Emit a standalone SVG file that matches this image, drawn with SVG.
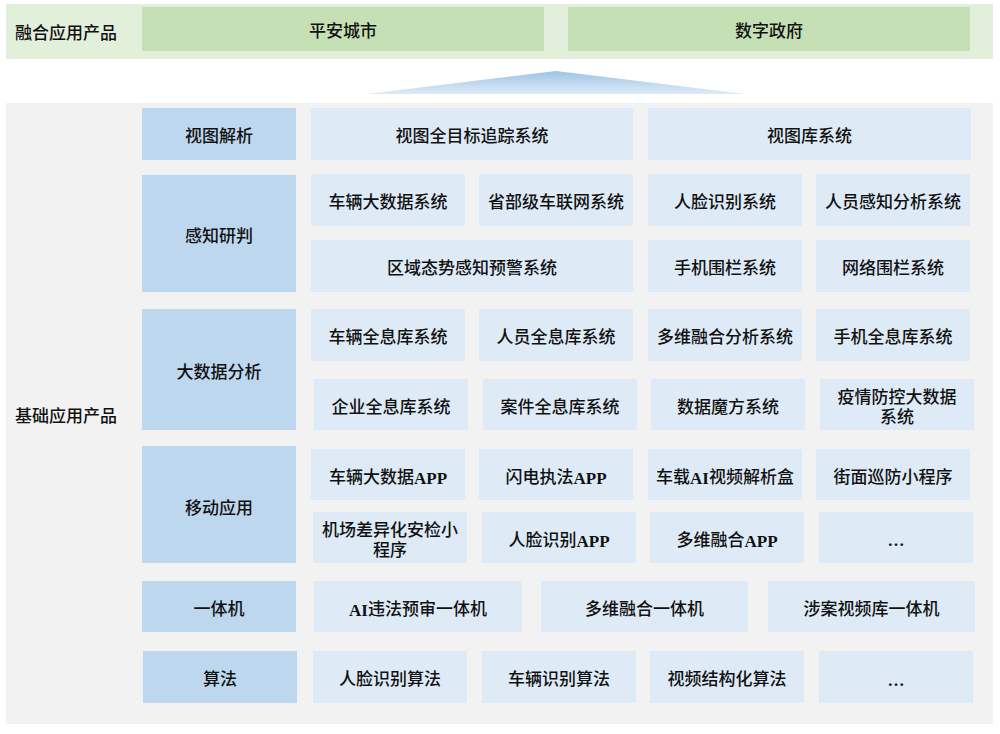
<svg xmlns="http://www.w3.org/2000/svg" width="1000" height="734" viewBox="0 0 1000 734">
<defs>
<linearGradient id="triGrad" x1="0" y1="0" x2="0" y2="1">
<stop offset="0" stop-color="#9dc3e6"/>
<stop offset="1" stop-color="#deebf7"/>
</linearGradient>
<style>
text{font-family:"Liberation Serif","Noto Sans CJK SC",serif;font-size:17px;font-weight:500;fill:#111;text-anchor:middle;dominant-baseline:central;transform:translateY(2.5px)}
.lbl{text-anchor:start}
.lat{font-weight:bold}
.band-top{fill:#e2efda}
.band{fill:#f2f2f2}
.green{fill:#c5e0b4}
.cat{fill:#bdd7ee}
.item{fill:#deebf7}
</style>
</defs>
<rect class="band-top" x="6" y="4" width="987" height="55"/>
<text class="lbl" x="15" y="31">融合应用产品</text>
<g id="n-pingan"><rect class="green" x="142" y="7" width="402" height="44"/><text x="343" y="29">平安城市</text></g>
<g id="n-shuzi"><rect class="green" x="568" y="7" width="402" height="44"/><text x="769" y="29">数字政府</text></g>
<polygon points="556,71 745,94 367,94" fill="url(#triGrad)"/>
<rect class="band" x="6" y="103" width="987" height="621"/>
<text class="lbl" x="15" y="414">基础应用产品</text>
<g id="c-shitu"><rect class="cat" x="142" y="108" width="154" height="52"/><text x="219" y="134">视图解析</text></g>
<g id="i-1"><rect class="item" x="311" y="108" width="322" height="52"/><text x="472" y="134">视图全目标追踪系统</text></g>
<g id="i-2"><rect class="item" x="648" y="108" width="323" height="52"/><text x="809.5" y="134">视图库系统</text></g>
<g id="c-ganzhi"><rect class="cat" x="142" y="175" width="154" height="117"/><text x="219" y="234">感知研判</text></g>
<g id="i-3"><rect class="item" x="311" y="174" width="154" height="52"/><text x="388" y="200">车辆大数据系统</text></g>
<g id="i-4"><rect class="item" x="479" y="174" width="154" height="52"/><text x="556" y="200">省部级车联网系统</text></g>
<g id="i-5"><rect class="item" x="648" y="174" width="154" height="52"/><text x="725" y="200">人脸识别系统</text></g>
<g id="i-6"><rect class="item" x="816" y="174" width="154" height="52"/><text x="893" y="200">人员感知分析系统</text></g>
<g id="i-7"><rect class="item" x="311" y="240" width="322" height="52"/><text x="472" y="266">区域态势感知预警系统</text></g>
<g id="i-8"><rect class="item" x="648" y="240" width="154" height="52"/><text x="725" y="266">手机围栏系统</text></g>
<g id="i-9"><rect class="item" x="816" y="240" width="154" height="52"/><text x="893" y="266">网络围栏系统</text></g>
<g id="c-dashuju"><rect class="cat" x="142" y="309" width="154" height="121"/><text x="219" y="370">大数据分析</text></g>
<g id="i-10"><rect class="item" x="311" y="309" width="154" height="52"/><text x="388" y="335">车辆全息库系统</text></g>
<g id="i-11"><rect class="item" x="479" y="309" width="154" height="52"/><text x="556" y="335">人员全息库系统</text></g>
<g id="i-12"><rect class="item" x="648" y="309" width="154" height="52"/><text x="725" y="335">多维融合分析系统</text></g>
<g id="i-13"><rect class="item" x="816" y="309" width="154" height="52"/><text x="893" y="335">手机全息库系统</text></g>
<g id="i-14"><rect class="item" x="314" y="379" width="154" height="51"/><text x="391" y="405">企业全息库系统</text></g>
<g id="i-15"><rect class="item" x="483" y="379" width="154" height="51"/><text x="560" y="405">案件全息库系统</text></g>
<g id="i-16"><rect class="item" x="651" y="379" width="154" height="51"/><text x="728" y="405">数据魔方系统</text></g>
<g id="i-17"><rect class="item" x="820" y="379" width="154" height="51"/><text x="897" y="395">疫情防控大数据</text><text x="897" y="415">系统</text></g>
<g id="c-yidong"><rect class="cat" x="142" y="446" width="154" height="117"/><text x="219" y="506">移动应用</text></g>
<g id="i-18"><rect class="item" x="311" y="449" width="154" height="51"/><text x="388" y="475">车辆大数据<tspan class="lat">APP</tspan></text></g>
<g id="i-19"><rect class="item" x="479" y="449" width="154" height="51"/><text x="556" y="475">闪电执法<tspan class="lat">APP</tspan></text></g>
<g id="i-20"><rect class="item" x="648" y="449" width="154" height="51"/><text x="725" y="475">车载<tspan class="lat">AI</tspan>视频解析盒</text></g>
<g id="i-21"><rect class="item" x="816" y="449" width="154" height="51"/><text x="893" y="475">街面巡防小程序</text></g>
<g id="i-22"><rect class="item" x="313" y="512" width="154" height="51"/><text x="390" y="528">机场差异化安检小</text><text x="390" y="548">程序</text></g>
<g id="i-23"><rect class="item" x="482" y="512" width="154" height="51"/><text x="559" y="538">人脸识别<tspan class="lat">APP</tspan></text></g>
<g id="i-24"><rect class="item" x="650" y="512" width="154" height="51"/><text x="727" y="538">多维融合<tspan class="lat">APP</tspan></text></g>
<g id="i-25"><rect class="item" x="819" y="512" width="154" height="51"/><text x="896" y="538" class="lat">…</text></g>
<g id="c-yitiji"><rect class="cat" x="142" y="581" width="154" height="51"/><text x="219" y="607">一体机</text></g>
<g id="i-26"><rect class="item" x="314" y="581" width="208" height="51"/><text x="418" y="607"><tspan class="lat">AI</tspan>违法预审一体机</text></g>
<g id="i-27"><rect class="item" x="541" y="581" width="207" height="51"/><text x="644.5" y="607">多维融合一体机</text></g>
<g id="i-28"><rect class="item" x="768" y="581" width="207" height="51"/><text x="871.5" y="607">涉案视频库一体机</text></g>
<g id="c-suanfa"><rect class="cat" x="143" y="651" width="154" height="52"/><text x="220" y="677">算法</text></g>
<g id="i-29"><rect class="item" x="313" y="651" width="154" height="52"/><text x="390" y="677">人脸识别算法</text></g>
<g id="i-30"><rect class="item" x="482" y="651" width="154" height="52"/><text x="559" y="677">车辆识别算法</text></g>
<g id="i-31"><rect class="item" x="650" y="651" width="154" height="52"/><text x="727" y="677">视频结构化算法</text></g>
<g id="i-32"><rect class="item" x="819" y="651" width="154" height="52"/><text x="896" y="678" class="lat">…</text></g>
<g id="connectors"/>
</svg>
